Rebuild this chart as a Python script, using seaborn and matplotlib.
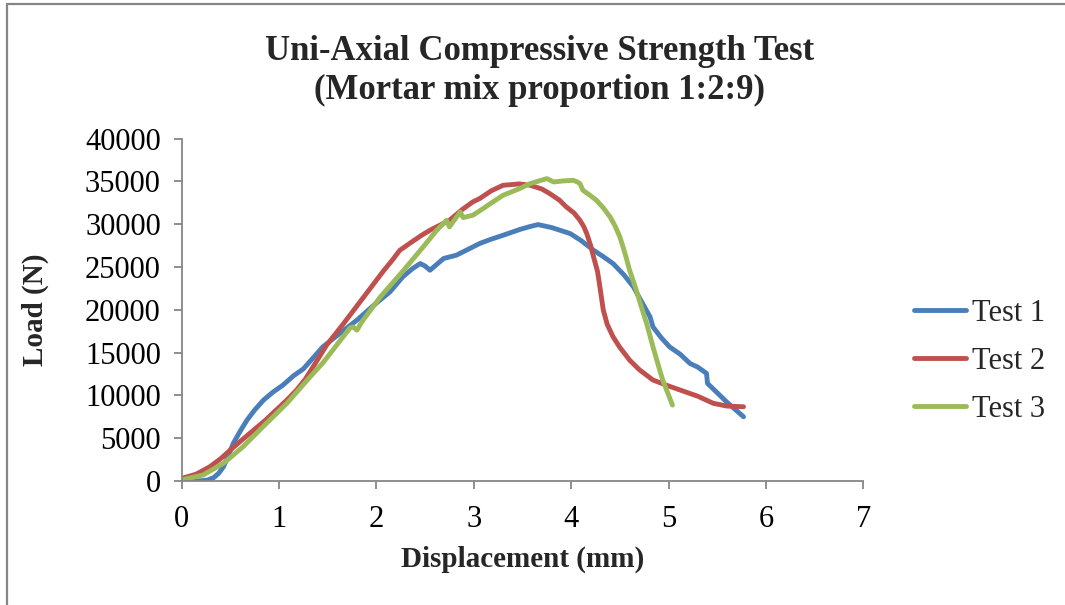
import matplotlib
matplotlib.use("Agg")
import matplotlib.pyplot as plt
from matplotlib.lines import Line2D
import numpy as np
import pandas as pd
import seaborn as sns

# Load–displacement readings for the three mortar specimens
test1_disp = [0.00, 0.10, 0.20, 0.27, 0.33, 0.38, 0.43, 0.48, 0.53, 0.60, 0.67, 0.75,
              0.84, 0.94, 1.04, 1.15, 1.25, 1.45, 1.62, 1.80, 1.97, 2.14, 2.27, 2.37,
              2.45, 2.50, 2.55, 2.62, 2.69, 2.82, 2.94, 3.06, 3.18, 3.30, 3.47, 3.57,
              3.66, 3.80, 3.99, 4.10, 4.23, 4.33, 4.43, 4.54, 4.64, 4.72, 4.81, 4.84,
              4.92, 5.01, 5.12, 5.22, 5.30, 5.39, 5.40, 5.50, 5.60, 5.77]
test1_load = [0, 0, 30, 120, 400, 900, 1670, 3000, 4400, 5800, 7100, 8300,
              9450, 10400, 11200, 12300, 13100, 15670, 17200, 18790, 20500, 22100, 23840, 24800,
              25400, 25100, 24620, 25300, 25990, 26370, 27050, 27740, 28250, 28700, 29370, 29700,
              29950, 29600, 28900, 28100, 26950, 26200, 25400, 24100, 22670, 21000, 19170, 18000,
              16800, 15670, 14800, 13730, 13300, 12570, 11400, 10300, 9200, 7500]

test2_disp = [0.00, 0.15, 0.29, 0.40, 0.50, 0.62, 0.74, 0.86, 0.97, 1.08, 1.18, 1.27,
              1.35, 1.49, 1.65, 1.80, 1.94, 2.07, 2.16, 2.24, 2.34, 2.45, 2.55, 2.75,
              2.88, 2.99, 3.06, 3.18, 3.30, 3.47, 3.58, 3.70, 3.78, 3.88, 3.95, 4.03,
              4.09, 4.13, 4.16, 4.20, 4.23, 4.27, 4.29, 4.31, 4.33, 4.37, 4.43, 4.50,
              4.60, 4.70, 4.84, 5.00, 5.12, 5.30, 5.46, 5.60, 5.77]
test2_load = [300, 800, 1670, 2600, 3620, 4800, 5950, 7100, 8280, 9450, 10620, 11900,
              13340, 15900, 18200, 20450, 22550, 24500, 25750, 26950, 27740, 28600, 29290, 30450,
              31700, 32600, 32990, 33900, 34540, 34700, 34540, 34100, 33570, 32800, 32010, 31300,
              30450, 29700, 28900, 27500, 26170, 24500, 23070, 21500, 19950, 18300, 16840, 15600,
              14120, 13000, 11790, 11100, 10620, 9900, 9070, 8750, 8670]

test3_disp = [0.00, 0.22, 0.43, 0.63, 0.87, 1.08, 1.32, 1.45, 1.60, 1.73, 1.76, 1.80,
              1.85, 2.04, 2.28, 2.48, 2.62, 2.72, 2.75, 2.86, 2.89, 2.99, 3.08, 3.17,
              3.30, 3.47, 3.58, 3.67, 3.75, 3.82, 3.92, 4.02, 4.06, 4.09, 4.12, 4.19,
              4.26, 4.33, 4.40, 4.45, 4.50, 4.55, 4.60, 4.66, 4.71, 4.78, 4.84, 4.89,
              4.94, 5.04]
test3_load = [120, 700, 2070, 4000, 6730, 9070, 12170, 13800, 16000, 17900, 18000, 17620,
              18590, 21500, 24620, 27340, 29290, 30450, 29680, 31420, 30770, 31040, 31700, 32400,
              33370, 34150, 34740, 35050, 35320, 34930, 35050, 35120, 34950, 34740, 33960, 33400,
              32790, 31900, 30840, 29800, 28510, 26700, 24620, 22600, 20740, 18200, 15670, 13700,
              11790, 8870]

series_names = ["Test 1", "Test 2", "Test 3"]
series_colors = ["#4A7EBB", "#C0504D", "#9BBB59"]
x_ticks = [0, 1, 2, 3, 4, 5, 6, 7]
y_ticks = [0, 5000, 10000, 15000, 20000, 25000, 30000, 35000, 40000]

frames = []
for name, xs, ys in zip(series_names,
                        [test1_disp, test2_disp, test3_disp],
                        [test1_load, test2_load, test3_load]):
    frames.append(pd.DataFrame({"disp": xs, "load": ys, "test": name}))
df = pd.concat(frames, ignore_index=True)

sns.set_theme(style="white")
plt.rcParams["font.family"] = ["Liberation Serif", "DejaVu Serif"]

fig = plt.figure(figsize=(10.65, 6.05), dpi=100)
ax = fig.add_axes([0.1706, 0.205, 0.640, 0.566])

line_w = 3.5
sns.lineplot(data=df, x="disp", y="load", hue="test", sort=False,
             palette=dict(zip(series_names, series_colors)), linewidth=line_w,
             estimator=None, legend=False, ax=ax)
for ln in ax.get_lines():
    ln.set_solid_capstyle("round")
    ln.set_solid_joinstyle("round")

ax.set_xlim(0, 7)
ax.set_ylim(0, 40000)
ax.set_xticks(x_ticks)
ax.set_yticks(y_ticks)
ax.set_xticklabels([str(v) for v in x_ticks])
ax.set_yticklabels([str(v) for v in y_ticks])

spine_color = "#868686"
for side in ["top", "right"]:
    ax.spines[side].set_visible(False)
for side in ["left", "bottom"]:
    ax.spines[side].set_color(spine_color)
    ax.spines[side].set_linewidth(1.3)
ax.tick_params(axis="both", which="major", direction="out", length=6, width=1.3,
               color=spine_color, labelsize=22, labelcolor="black")
ax.tick_params(axis="x", pad=11)
ax.tick_params(axis="y", pad=9)
ax.tick_params(left=True, bottom=True)

ax.set_xlabel("Displacement (mm)", fontsize=21, fontweight="bold")
ax.set_ylabel("Load (N)", fontsize=21, fontweight="bold")
ax.xaxis.set_label_coords(0.5, -0.19)
ax.yaxis.set_label_coords(-0.195, 0.5)

fig.text(0.507, 0.883, "Uni-Axial Compressive Strength Test\n(Mortar mix proportion 1:2:9)",
         ha="center", va="center", fontsize=25, fontweight="bold", linespacing=1.25)

handles = [Line2D([0], [0], color=c, lw=line_w, solid_capstyle="round") for c in series_colors]
fig.legend(handles, series_names, loc="center left", bbox_to_anchor=(0.847, 0.403),
           frameon=False, fontsize=22, handlelength=1.68, handletextpad=0.2,
           labelspacing=0.62, borderaxespad=0)

# Outer frame along the top and left edges
fig.add_artist(Line2D([0.0066, 1.0], [0.9934, 0.9934], color="#868686", lw=1.6,
                      transform=fig.transFigure))
fig.add_artist(Line2D([0.0066, 0.0066], [0.0, 0.9934], color="#868686", lw=1.6,
                      transform=fig.transFigure))

fig.savefig("out.png", dpi=100, facecolor="white")
